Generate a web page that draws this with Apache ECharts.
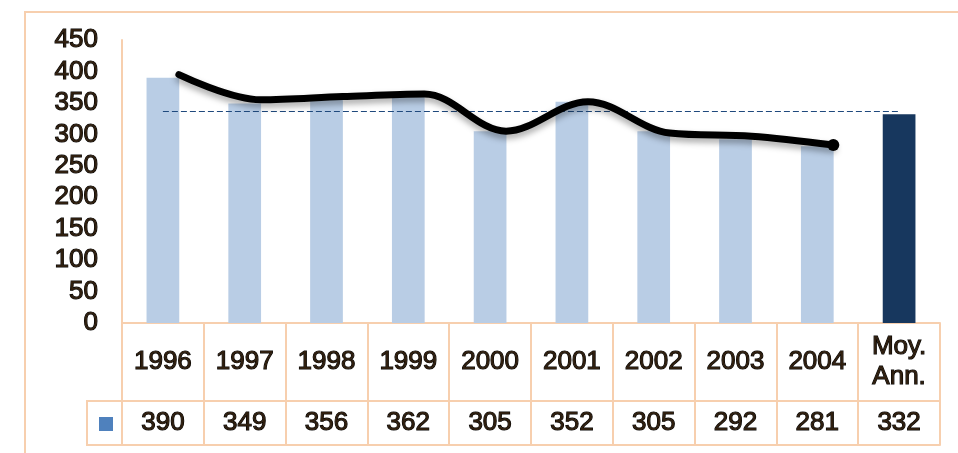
<!DOCTYPE html>
<html>
<head>
<meta charset="utf-8">
<script src="https://cdn.jsdelivr.net/npm/echarts@6/dist/echarts.min.js"></script>
<style>
  html, body { margin: 0; padding: 0; background: #fff; }
  #chart { width: 958px; height: 453px; }
</style>
</head>
<body>
<div id="chart"></div>
<script>
// données
const categories = ['1996', '1997', '1998', '1999', '2000', '2001', '2002', '2003', '2004', 'Moy.\nAnn.'];
const values = [390, 349, 356, 362, 305, 352, 305, 292, 281, 332];
// courbe de tendance tracée à la main
const trendValues = [395, 355, 360, 364, 305, 352, 302, 297, 283, null];
const avgLine = 337;
const yTicks = { min: 0, max: 450, interval: 50 };

const peach = '#f7cfae';
const textStyle = {
    fontFamily: 'Liberation Sans',
    fontSize: 26,
    color: '#2e1e0e',
    textBorderColor: '#000',
    textBorderWidth: 1.1
};

const chart = echarts.init(document.getElementById('chart'));

const lastIdx = trendValues.length - 2;
const option = {
    animation: false,
    grid: [
        { left: 122, right: 18, top: 40, bottom: 130 },
        // la courbe dessinée à la main est décalée vers la droite
        { left: 138, right: 2, top: 40, bottom: 130 }
    ],
    legend: {
        data: ['Valeur'],
        left: 94, top: 412,
        icon: 'rect',
        itemWidth: 14, itemHeight: 14,
        formatter: () => '',
        selectedMode: false
    },
    xAxis: [
        {
            type: 'category',
            data: categories,
            axisLine: { show: true, lineStyle: { color: peach, width: 2 } },
            axisTick: { show: true, interval: 0, length: 122, lineStyle: { color: peach, width: 2 } },
            axisLabel: Object.assign({ interval: 0, margin: 39, verticalAlign: 'middle', lineHeight: 30 }, textStyle)
        },
        {
            type: 'category',
            position: 'bottom',
            offset: 78,
            data: values.map(String),
            axisLine: { show: true, lineStyle: { color: peach, width: 2 } },
            axisTick: { show: false },
            axisLabel: Object.assign({ interval: 0, margin: 22, verticalAlign: 'middle' }, textStyle)
        },
        {
            type: 'category',
            position: 'bottom',
            offset: 122,
            data: categories,
            axisLine: { show: true, lineStyle: { color: peach, width: 2 } },
            axisTick: { show: false },
            axisLabel: { show: false }
        },
        {
            type: 'category',
            gridIndex: 1,
            data: categories,
            show: false
        }
    ],
    yAxis: [
        {
            type: 'value',
            min: yTicks.min, max: yTicks.max, interval: yTicks.interval,
            axisLine: { show: true, lineStyle: { color: peach, width: 2 } },
            axisTick: { show: false },
            splitLine: { show: false },
            axisLabel: Object.assign({ margin: 24 }, textStyle)
        },
        {
            type: 'value',
            gridIndex: 1,
            min: yTicks.min, max: yTicks.max, interval: yTicks.interval,
            show: false
        }
    ],
    series: [
        {
            name: 'Valeur',
            type: 'bar',
            barWidth: '40%',
            itemStyle: { color: '#4f81bd' },
            data: values.map((v, i) => ({
                value: v,
                itemStyle: { color: i === values.length - 1 ? '#17375e' : '#b9cde5' }
            })),
            markLine: {
                silent: true,
                symbol: 'none',
                label: { show: false },
                lineStyle: { color: '#1f497d', width: 1, type: [6, 3] },
                data: [[
                    { coord: [categories[0], avgLine] },
                    { coord: [categories[categories.length - 1], avgLine] }
                ]]
            }
        },
        {
            name: 'tendance',
            type: 'line',
            xAxisIndex: 3,
            yAxisIndex: 1,
            smooth: 0.35,
            symbol: 'none',
            z: 5,
            lineStyle: {
                color: '#000', width: 7, cap: 'round',
                shadowColor: 'rgba(0,0,0,0.35)', shadowBlur: 6, shadowOffsetY: 4
            },
            itemStyle: { color: '#000' },
            data: trendValues.map((v, i) => i === lastIdx
                ? { value: v, symbol: 'circle', symbolSize: 12 }
                : v)
        }
    ],
    graphic: [
        // cadre extérieur
        { type: 'rect', shape: { x: 25, y: 12, width: 1000, height: 500 },
          style: { fill: 'none', stroke: peach, lineWidth: 2 }, silent: true },
        // case de la légende
        { type: 'rect', shape: { x: 87, y: 401, width: 35, height: 44 },
          style: { fill: 'none', stroke: peach, lineWidth: 2 }, silent: true }
    ]
};
chart.setOption(option);
</script>
</body>
</html>
